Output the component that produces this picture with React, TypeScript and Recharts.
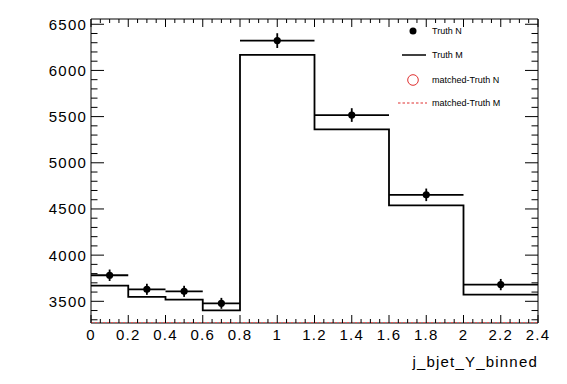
import React from 'react';
import {
  ComposedChart,
  Line,
  Scatter,
  ErrorBar,
  XAxis,
  YAxis,
  ReferenceArea,
} from 'recharts';

// --- histogram data ---
const binEdges = [0, 0.2, 0.4, 0.6, 0.8, 1.2, 1.6, 2.0, 2.4];
const binCenters = [0.1, 0.3, 0.5, 0.7, 1.0, 1.4, 1.8, 2.2];
const truthN = [3782, 3630, 3608, 3478, 6323, 5517, 4653, 3681];
const truthNErr = [62, 60, 60, 59, 80, 74, 68, 61];
const truthM = [3670, 3547, 3518, 3402, 6168, 5362, 4538, 3573];
const matchedM = [0, 0, 0, 0, 0, 0, 0, 0];

const xMajorTicks = [0, 0.2, 0.4, 0.6, 0.8, 1, 1.2, 1.4, 1.6, 1.8, 2, 2.2, 2.4];
const yMajorTicks = [3500, 4000, 4500, 5000, 5500, 6000, 6500];

// --- layout ---
const W = 567;
const H = 384;
const PLOT_LEFT = 91;
const PLOT_RIGHT = 538;
const PLOT_TOP = 19;
const PLOT_BOTTOM = 323;
const X_MIN = 0;
const X_MAX = 2.4;
const Y_MIN = 3265;
const Y_MAX = 6557;
const FONT = '"Liberation Sans", Arial, Helvetica, sans-serif';

// minor ticks: 4 per x major division, 5 per y major division
const xTicks = Array.from({ length: 49 }, (_, i) => Math.round(i * 5) / 100);
const yTicks = Array.from({ length: 33 }, (_, i) => 3300 + i * 100);

const pointRows = binCenters.map((x, i) => ({
  x,
  n: truthN[i],
  ey: truthNErr[i],
  ex: (binEdges[i + 1] - binEdges[i]) / 2,
}));

const stepRows = binEdges.map((x, i) => ({
  x,
  m: truthM[Math.min(i, truthM.length - 1)],
}));

// ROOT clips empty bins to the frame bottom
const matchedRows = binEdges.map((x, i) => ({
  x,
  m: Math.max(matchedM[Math.min(i, matchedM.length - 1)], Y_MIN),
}));

const isMajor = (v: number, list: number[]) => list.some((t) => Math.abs(t - v) < 1e-6);

const XTick = ({ x, payload }: any) => {
  const v = payload.value;
  const major = isMajor(v, xMajorTicks);
  const len = major ? 8 : 4;
  return (
    <g>
      <line x1={x} x2={x} y1={PLOT_BOTTOM} y2={PLOT_BOTTOM - len} stroke="#000" />
      <line x1={x} x2={x} y1={PLOT_TOP} y2={PLOT_TOP + len} stroke="#000" />
      {major && (
        <text
          x={x}
          y={PLOT_BOTTOM + 17}
          textAnchor="middle"
          fontSize={15}
          letterSpacing={1.2}
          fontFamily={FONT}
          fill="#000"
        >
          {String(Number(v.toFixed(1)))}
        </text>
      )}
    </g>
  );
};

const YTick = ({ y, payload }: any) => {
  const v = payload.value;
  const major = isMajor(v, yMajorTicks);
  const len = major ? 13 : 6.5;
  return (
    <g>
      <line x1={PLOT_LEFT} x2={PLOT_LEFT + len} y1={y} y2={y} stroke="#000" />
      <line x1={PLOT_RIGHT - len} x2={PLOT_RIGHT} y1={y} y2={y} stroke="#000" />
      {major && (
        <text
          x={PLOT_LEFT - 4}
          y={y + 5.4}
          textAnchor="end"
          fontSize={15}
          letterSpacing={1.2}
          fontFamily={FONT}
          fill="#000"
        >
          {v}
        </text>
      )}
    </g>
  );
};

const Dot = (p: any) => <circle cx={p.cx} cy={p.cy} r={3.6} fill="#000" />;

const HistLegend = () => (
  <svg
    width={150}
    height={100}
    style={{ position: 'absolute', left: 395, top: 19 }}
    fontFamily={FONT}
    fontSize={9}
  >
    <circle cx={18} cy={12} r={3.5} fill="#000" />
    <text x={37} y={15.3}>Truth N</text>
    <line x1={7} x2={31} y1={36} y2={36} stroke="#000" strokeWidth={1.5} />
    <text x={37} y={39.3}>Truth M</text>
    <circle cx={18} cy={61} r={5.3} fill="none" stroke="#e03030" strokeWidth={1} />
    <text x={37} y={64.3}>matched-Truth N</text>
    <line x1={3} x2={32} y1={84} y2={84} stroke="#e03030" strokeDasharray="2.5 2" strokeWidth={1.2} />
    <text x={37} y={87.3}>matched-Truth M</text>
  </svg>
);

export default function App() {
  return (
    <div style={{ position: 'absolute', left: 0, top: 0, width: W, height: H, background: '#fff' }}>
      <ComposedChart
        width={W}
        height={H}
        margin={{ top: PLOT_TOP, right: W - PLOT_RIGHT, bottom: 0, left: 0 }}
      >
        <XAxis
          dataKey="x"
          type="number"
          domain={[X_MIN, X_MAX]}
          ticks={xTicks}
          interval={0}
          allowDataOverflow
          height={H - PLOT_BOTTOM}
          axisLine={false}
          tickLine={false}
          tick={<XTick />}
        />
        <YAxis
          type="number"
          domain={[Y_MIN, Y_MAX]}
          ticks={yTicks}
          interval={0}
          allowDataOverflow
          width={PLOT_LEFT}
          axisLine={false}
          tickLine={false}
          tick={<YTick />}
        />
        <ReferenceArea
          x1={X_MIN}
          x2={X_MAX}
          y1={Y_MIN}
          y2={Y_MAX}
          fill="none"
          stroke="#000"
          strokeWidth={1}
          ifOverflow="visible"
        />
        <Line
          data={stepRows}
          dataKey="m"
          type="stepAfter"
          stroke="#000"
          strokeWidth={1.8}
          dot={false}
          isAnimationActive={false}
        />
        <Line
          data={matchedRows}
          dataKey="m"
          type="stepAfter"
          stroke="#ff4040"
          strokeWidth={1.5}
          strokeDasharray="2 2"
          dot={false}
          isAnimationActive={false}
        />
        <Scatter data={pointRows} dataKey="n" shape={<Dot />} isAnimationActive={false}>
          <ErrorBar dataKey="ey" direction="y" width={0} stroke="#000" strokeWidth={1.8} />
          <ErrorBar dataKey="ex" direction="x" width={0} stroke="#000" strokeWidth={1.8} />
        </Scatter>
      </ComposedChart>
      <HistLegend />
      <div
        style={{
          position: 'absolute',
          right: W - PLOT_RIGHT,
          top: 352,
          fontFamily: FONT,
          fontSize: 15,
          letterSpacing: 1.2,
          lineHeight: '20px',
          whiteSpace: 'nowrap',
        }}
      >
        j_bjet_Y_binned
      </div>
    </div>
  );
}
